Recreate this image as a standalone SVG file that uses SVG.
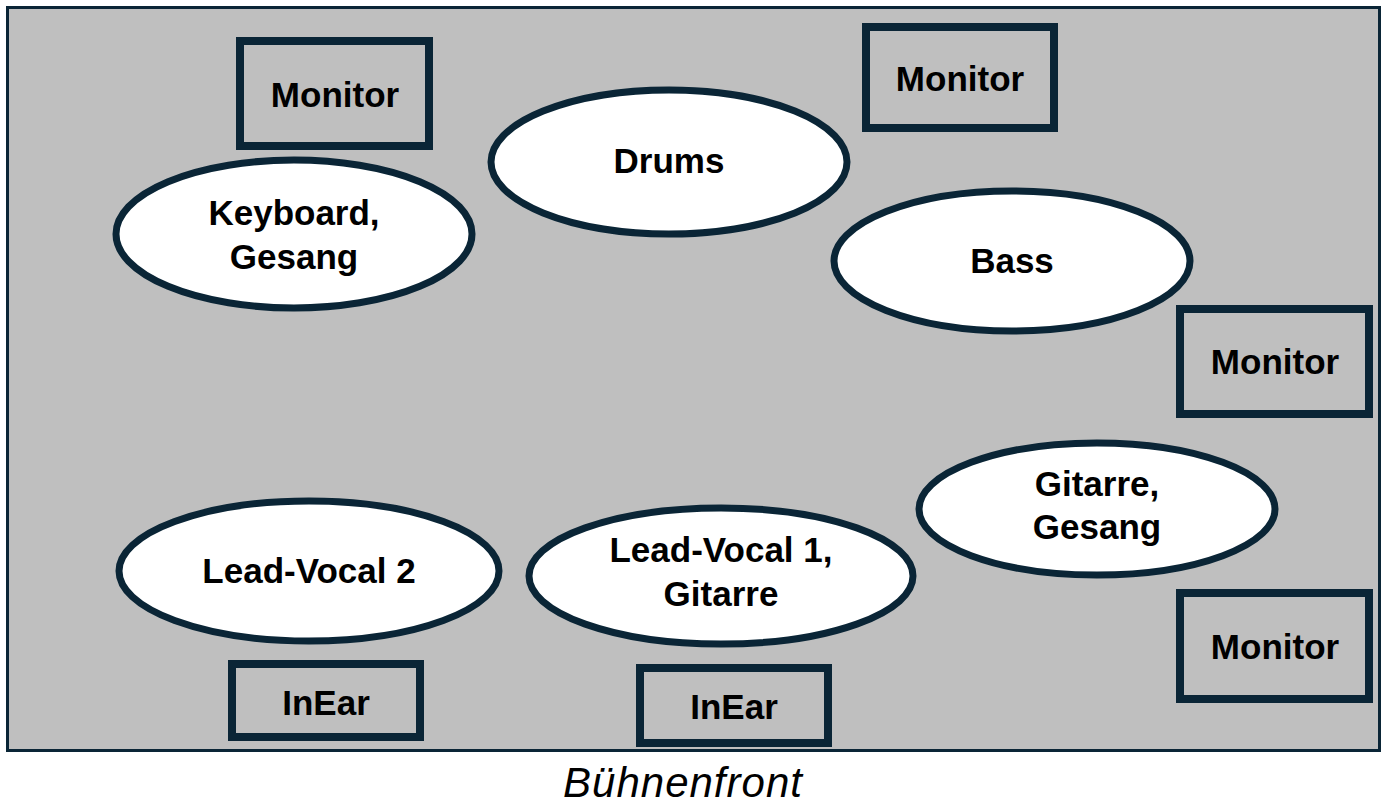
<svg xmlns="http://www.w3.org/2000/svg" width="1383" height="806" viewBox="0 0 1383 806">
<style>
.box{fill:none;stroke:#0A2536;stroke-width:8}
.ell{fill:#FFFFFF;stroke:#0A2536;stroke-width:7}
.t{font-family:"Liberation Sans",Arial,sans-serif;font-weight:bold;font-size:35px;fill:#000;text-anchor:middle}
.cap{font-family:"Liberation Sans",Arial,sans-serif;font-style:italic;font-size:42px;letter-spacing:1px;fill:#000;text-anchor:middle}
</style>
<rect x="0" y="0" width="1383" height="806" fill="#FFFFFF"/>
<g id="stage">
<rect x="7.5" y="7.5" width="1372" height="743" fill="#BFBFBF" stroke="#0A2536" stroke-width="3"/>
</g>
<g id="connectors"></g>
<g id="monitor-keyboard"><rect class="box" x="240" y="41" width="189" height="105"/><text class="t" x="335" y="107">Monitor</text></g>
<g id="monitor-drums"><rect class="box" x="866" y="27" width="188" height="101"/><text class="t" x="960" y="91">Monitor</text></g>
<g id="monitor-bass"><rect class="box" x="1180" y="309" width="189" height="105"/><text class="t" x="1275" y="374">Monitor</text></g>
<g id="monitor-gitarre"><rect class="box" x="1180" y="593" width="189" height="106"/><text class="t" x="1275" y="659">Monitor</text></g>
<g id="inear-lv2"><rect class="box" x="232" y="664" width="188" height="73"/><text class="t" x="326" y="715">InEar</text></g>
<g id="inear-lv1"><rect class="box" x="640" y="668" width="188" height="75"/><text class="t" x="734" y="719">InEar</text></g>
<g id="keyboard"><ellipse class="ell" cx="294" cy="234" rx="178" ry="74"/><text class="t" x="294" y="225">Keyboard,</text><text class="t" x="294" y="269">Gesang</text></g>
<g id="drums"><ellipse class="ell" cx="669" cy="162" rx="178" ry="72"/><text class="t" x="669" y="173">Drums</text></g>
<g id="bass"><ellipse class="ell" cx="1012" cy="261" rx="178" ry="70"/><text class="t" x="1012" y="273">Bass</text></g>
<g id="gitarre"><ellipse class="ell" cx="1097" cy="509" rx="178" ry="66"/><text class="t" x="1097" y="496">Gitarre,</text><text class="t" x="1097" y="539">Gesang</text></g>
<g id="leadvocal2"><ellipse class="ell" cx="309" cy="571" rx="190" ry="70"/><text class="t" x="309" y="583">Lead-Vocal 2</text></g>
<g id="leadvocal1"><ellipse class="ell" cx="721" cy="576" rx="192" ry="68"/><text class="t" x="721" y="562">Lead-Vocal 1,</text><text class="t" x="721" y="606">Gitarre</text></g>
<text class="cap" x="683" y="797">Bühnenfront</text>
</svg>
